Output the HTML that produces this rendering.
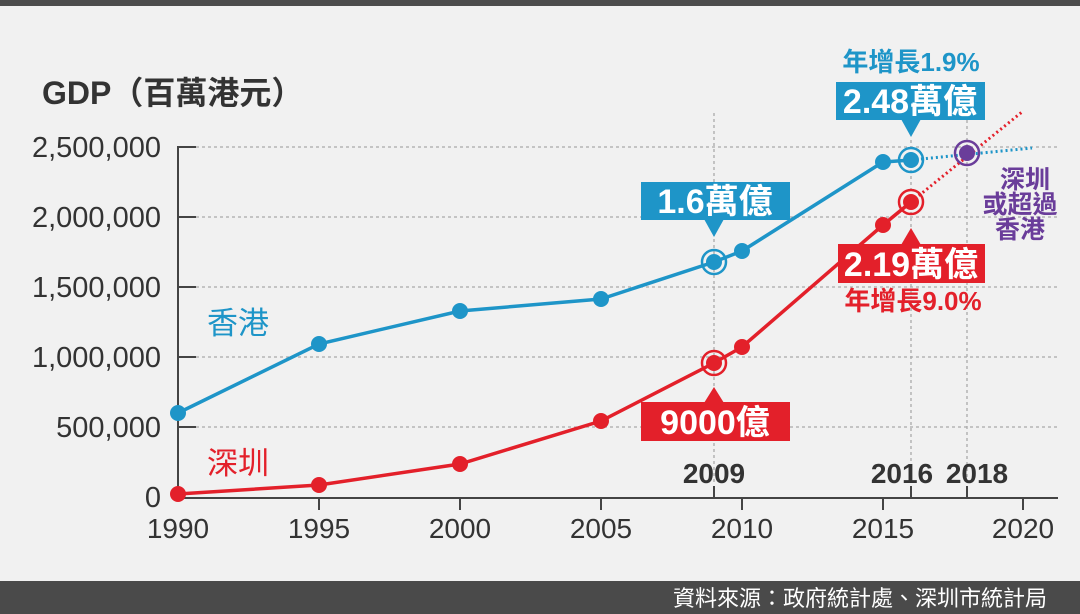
<!DOCTYPE html>
<html><head><meta charset="utf-8"><style>
html,body{margin:0;padding:0;background:#f1f1f1;}
svg{display:block}
text{font-family:"Liberation Sans","Noto Sans CJK TC",sans-serif;}
</style></head><body>
<svg width="1080" height="614" viewBox="0 0 1080 614" xmlns="http://www.w3.org/2000/svg">
<rect width="1080" height="614" fill="#f1f1f1"/>
<rect width="1080" height="6" fill="#4d4d4d"/>
<rect y="581" width="1080" height="33" fill="#4a4a4a"/>
<text x="1047" y="606" font-size="22" fill="#fff" text-anchor="end">資料來源：政府統計處、深圳市統計局</text>

<text x="42" y="104" font-size="32" font-weight="bold" fill="#333">GDP（百萬港元）</text>
<g font-size="29" fill="#333" text-anchor="end">
<text x="161" y="157">2,500,000</text>
<text x="161" y="227">2,000,000</text>
<text x="161" y="297">1,500,000</text>
<text x="161" y="367">1,000,000</text>
<text x="161" y="437">500,000</text>
<text x="161" y="507">0</text>
</g>
<g stroke="#aaa" stroke-width="1.3" stroke-dasharray="3,3">
<line x1="196" y1="147" x2="1058" y2="147"/>
<line x1="196" y1="217" x2="1058" y2="217"/>
<line x1="196" y1="287" x2="1058" y2="287"/>
<line x1="196" y1="357" x2="1058" y2="357"/>
<line x1="196" y1="427" x2="1058" y2="427"/>
<line x1="714" y1="113" x2="714" y2="483"/>
<line x1="911" y1="140" x2="911" y2="483"/>
<line x1="967" y1="120" x2="967" y2="483"/>
</g>
<g stroke="#444" stroke-width="2" fill="none">
<polyline points="196,147 178,147 178,498 1058,498"/>
<line x1="178" y1="217" x2="196" y2="217"/><line x1="178" y1="287" x2="196" y2="287"/>
<line x1="178" y1="357" x2="196" y2="357"/><line x1="178" y1="427" x2="196" y2="427"/>
<line x1="319" y1="498" x2="319" y2="510"/><line x1="460" y1="498" x2="460" y2="510"/>
<line x1="601" y1="498" x2="601" y2="510"/><line x1="742" y1="498" x2="742" y2="510"/>
<line x1="883" y1="498" x2="883" y2="510"/><line x1="1023" y1="498" x2="1023" y2="510"/>
<line x1="714" y1="486" x2="714" y2="498"/><line x1="911" y1="486" x2="911" y2="498"/><line x1="967" y1="486" x2="967" y2="498"/>
</g>
<g font-size="28" fill="#333" text-anchor="middle">
<text x="178" y="538">1990</text><text x="319" y="538">1995</text><text x="460" y="538">2000</text>
<text x="601" y="538">2005</text><text x="742" y="538">2010</text><text x="883" y="538">2015</text><text x="1023" y="538">2020</text>
</g>
<g font-size="28" font-weight="bold" fill="#333" text-anchor="middle">
<text x="714" y="483">2009</text><text x="902" y="483">2016</text><text x="977" y="483">2018</text>
</g>

<line x1="911" y1="202" x2="1022" y2="112" stroke="#e3202a" stroke-width="3" stroke-dasharray="2,3"/>
<line x1="911" y1="160" x2="1032" y2="148" stroke="#1e95c8" stroke-width="3" stroke-dasharray="2,3"/>

<polyline points="178,413 319,344 460,311 601,299 714,262 742,251 883,162 911,160" fill="none" stroke="#1e95c8" stroke-width="3.5"/>
<polyline points="178,494 319,485 460,464 601,421 714,363 742,347 883,225 911,202" fill="none" stroke="#e3202a" stroke-width="3.5"/>
<g fill="#1e95c8">
<circle cx="178" cy="413" r="8"/><circle cx="319" cy="344" r="8"/><circle cx="460" cy="311" r="8"/>
<circle cx="601" cy="299" r="8"/><circle cx="714" cy="262" r="8"/><circle cx="742" cy="251" r="8"/>
<circle cx="883" cy="162" r="8"/><circle cx="911" cy="160" r="8"/>
</g>
<g fill="#e3202a">
<circle cx="178" cy="494" r="8"/><circle cx="319" cy="485" r="8"/><circle cx="460" cy="464" r="8"/>
<circle cx="601" cy="421" r="8"/><circle cx="714" cy="363" r="8"/><circle cx="742" cy="347" r="8"/>
<circle cx="883" cy="225" r="8"/><circle cx="911" cy="202" r="8"/>
</g>
<g fill="none" stroke-width="2.5">
<circle cx="714" cy="262" r="12" stroke="#1e95c8"/><circle cx="911" cy="160" r="12" stroke="#1e95c8"/>
<circle cx="714" cy="363" r="12" stroke="#e3202a"/><circle cx="911" cy="202" r="12" stroke="#e3202a"/>
<circle cx="967" cy="153" r="12" stroke="#6a3d9a"/>
</g>
<circle cx="967" cy="153" r="8" fill="#6a3d9a"/>

<g fill="#1e95c8">
<rect x="641" y="182" width="149" height="38"/><polygon points="704,219 724,219 714,237"/>
<rect x="836" y="82" width="149" height="38"/><polygon points="901,119 921,119 911,137"/>
</g>
<g fill="#e3202a">
<rect x="838" y="244" width="147" height="39"/><polygon points="901,245 921,245 911,228"/>
<rect x="641" y="402" width="149" height="39"/><polygon points="704,403 724,403 714,387"/>
</g>
<g font-size="34" font-weight="bold" fill="#fff" text-anchor="middle">
<text x="715" y="213">1.6萬億</text>
<text x="910" y="113">2.48萬億</text>
<text x="911" y="276">2.19萬億</text>
<text x="715" y="434">9000億</text>
</g>
<text x="911" y="71" font-size="26" font-weight="bold" fill="#1e95c8" text-anchor="middle">年增長1.9%</text>
<text x="913" y="310" font-size="26" font-weight="bold" fill="#e3202a" text-anchor="middle">年增長9.0%</text>
<g font-size="25" font-weight="bold" fill="#6a3d9a" text-anchor="middle">
<text x="1025" y="188">深圳</text><text x="1020" y="213">或超過</text><text x="1020" y="238">香港</text>
</g>
<text x="207" y="334" font-size="31" fill="#1e95c8">香港</text>
<text x="207" y="474" font-size="31" fill="#e3202a">深圳</text>
</svg>
</body></html>
